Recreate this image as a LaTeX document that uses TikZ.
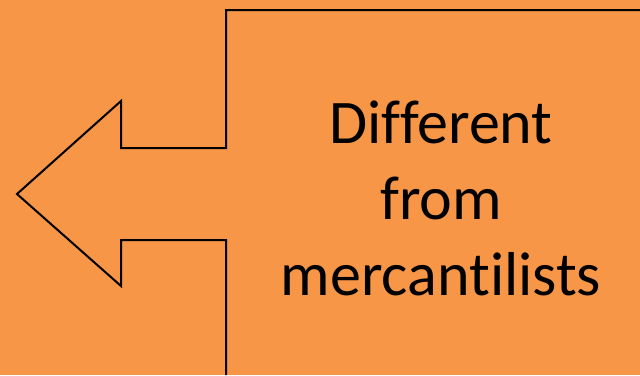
\documentclass[tikz,border=0pt]{standalone}
\usepackage{fontspec}
\setmainfont[Ligatures=NoCommon]{Carlito}
\definecolor{calloutorange}{HTML}{F79646}
\begin{document}
\begin{tikzpicture}[x=1pt,y=-1pt]
\fill[calloutorange] (0,0) rectangle (640,375);
\useasboundingbox (0,0) rectangle (640,375);
\draw[line width=2pt,line join=miter] (640,10) -- (226,10) -- (226,148) -- (121,148) -- (121,101) -- (17,194) -- (121,286) -- (121,240) -- (226,240) -- (226,375);
\node (label) at (441,295) [anchor=base,align=center,font=\fontsize{62}{76}\selectfont,inner sep=0pt] {Different\\from\\mercantilists};
\end{tikzpicture}
\end{document}
